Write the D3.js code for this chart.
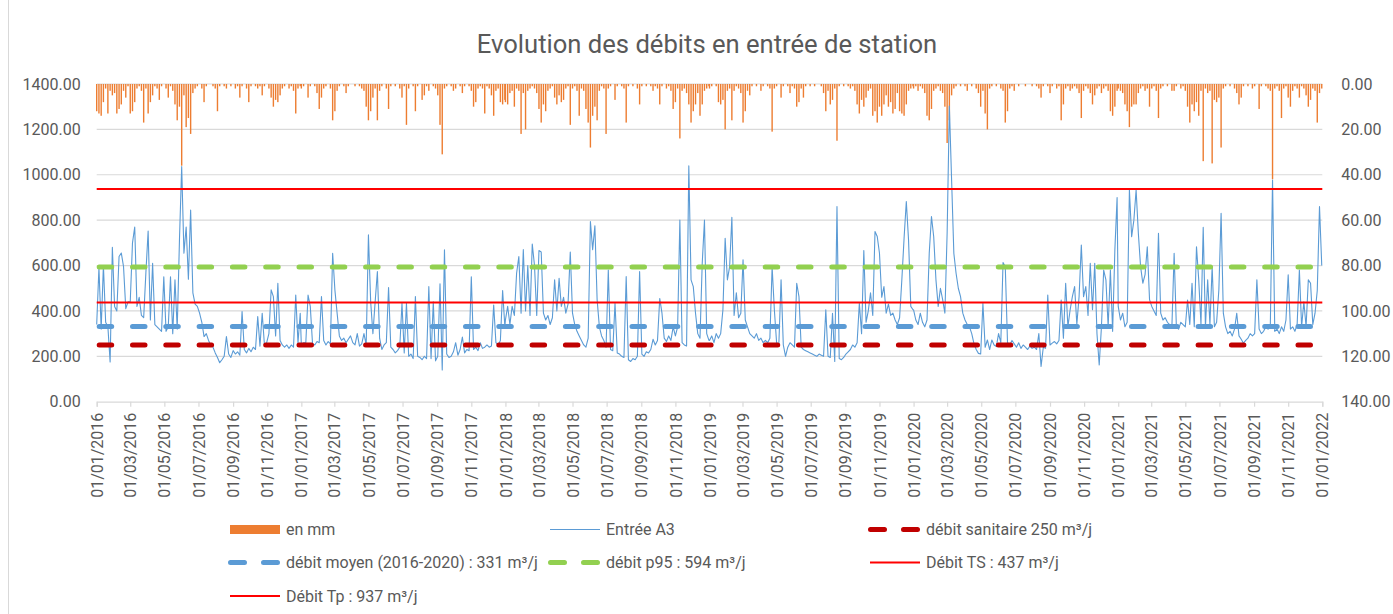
<!DOCTYPE html>
<html><head><meta charset="utf-8">
<script src="https://cdn.jsdelivr.net/npm/d3@7"></script>
<style>
body{margin:0;background:#fff}
svg{display:block}
text{font-family:Roboto,"Noto Sans",sans-serif;fill:#595959}
</style>
</head><body>
<svg id="c" width="1393" height="614"></svg>
<script>
// ---- DATA ----
const chartTitle = "Evolution des débits en entrée de station";
const years = [2016, 2017, 2018, 2019, 2020, 2021];
const stepDays = 4; // one reading every 4 days, starting 1 January of each year

// Entrée A3 (m³/j)
const flow2016 = [340,590,320,600,350,330,175,680, 420,400,640,655,595,410,440, 440,700,770,420,460,380,370,570, 752,360,610,340,330,320,310, 550,310,330,550,300,537,320,710, 1036,654,770,540,845,480,430, 420,390,350,287,300,270,250,240, 215,195,172,185,200,287,210,195, 225,210,220,205,397,230,215, 235,220,240,230,375,245,390,250, 260,300,493,463,290,522,270, 250,240,250,235,250,240,470,260,390];
const flow2017 = [250,260,260,470,420,255,250,265, 260,463,270,250,265,255,654, 493,390,290,270,280,260,275,290, 260,250,300,245,255,300,250, 735,440,300,440,573,280,230,250, 260,503,240,230,215,225,240, 434,215,434,200,210,190,463,200, 195,185,200,190,507,190,440,180, 200,520,140,669,210,195,200, 220,260,205,230,285,215,230,225, 550,230,240,225,260,235,240, 250,240,245,426,260,250,270,490,330];
const flow2018 = [360,420,340,420,380,566,640,390, 670,400,600,380,695,600,380, 666,660,390,360,380,340,370,537, 400,544,420,460,390,430,660, 390,340,310,290,270,250,240,280, 794,670,775,450,330,290,270, 240,580,230,225,434,215,210,200, 195,551,185,177,190,185,200,573, 210,200,220,215,230,275,250, 270,455,390,280,265,290,270,330, 290,330,800,260,250,245,1039, 537,507,390,300,280,610,800,300,270];
const flow2019 = [270,290,260,300,280,300,405,720, 537,595,813,380,480,370,390, 625,360,330,300,290,280,300,270, 280,260,270,260,280,595,405, 260,250,537,250,200,240,260,250, 240,522,463,240,230,225,220, 215,210,205,200,210,205,200,405, 200,195,390,177,860,190,185,195, 210,220,230,250,240,260,434, 300,666,350,400,480,380,750,728, 654,460,507,390,430,380,390, 360,340,370,537,720,882,712,420,405];
const flow2020 = [405,360,340,390,350,330,360,654, 816,727,537,420,500,450,390, 742,1303,977,654,566,500,463,390, 360,340,330,300,256,230,213, 210,434,240,272,230,272,250,243, 300,260,613,595,260,250,270, 255,240,260,235,250,240,230,245, 235,240,230,300,155,240,235,470, 250,258,265,255,270,448,280, 522,330,405,463,507,340,463,690, 463,507,380,610,405,610,300, 162,330,580,537,330,580,310,669,900];
const flow2021 = [420,360,390,330,350,933,727,800, 933,742,595,522,560,683,450, 420,400,380,742,390,360,370,350, 340,330,654,330,320,350,340, 330,448,340,522,330,683,537,340, 768,330,537,340,595,330,350, 493,830,390,330,300,310,290,320, 390,290,275,258,270,280,300,290, 300,537,320,300,310,330,320, 330,977,310,320,300,330,310,360, 559,320,330,310,340,580,330, 440,330,537,522,340,390,490,860,600];

// Pluie (mm), same 4-day readings
const rain2016 = [12,13,14,8,2,13,3,5,4,13,11,9,3,6,1,13,12,8,2,1,3,17,2,13,8,5,1,2,7,1,0,2,6,1,3,9,16,10,36,5,19,15,22,4,2,1,0,2,8,1,0,0,1,2,12,1,0,1,2,0,1,0,2,1,6,1,0,2,8,1,0,1,2,1,5,1,0,2,6,10,7,8,5,2,1,0,2,1,3,13,2,1];
const rain2017 = [2,1,0,6,1,0,1,4,11,6,2,1,0,2,16,12,3,1,0,1,4,1,0,0,1,0,1,2,3,10,16,12,6,2,16,3,1,0,2,11,1,0,1,0,2,6,1,18,2,0,1,12,1,0,7,5,1,3,0,1,2,5,18,31,2,1,0,1,3,2,0,1,4,1,0,1,3,10,8,2,1,2,13,1,2,5,14,3,2,8,9,7];
const rain2018 = [8,9,4,3,10,2,3,22,4,20,3,2,1,2,4,11,17,9,12,3,2,1,6,9,5,8,7,2,1,18,2,1,3,14,2,3,11,17,28,14,10,16,3,1,2,22,2,1,0,7,1,0,1,2,17,1,0,1,0,2,9,1,0,1,0,1,3,1,2,9,1,0,2,1,3,11,8,2,24,3,2,4,9,17,12,9,4,14,9,3,2,1];
const rain2019 = [2,1,0,1,8,9,7,20,3,2,16,3,1,2,4,17,12,3,5,1,0,1,0,3,1,0,1,2,21,2,1,0,6,1,0,1,4,1,2,10,8,2,6,1,0,1,0,1,0,0,1,4,12,3,9,7,2,25,1,0,1,0,1,2,1,3,9,13,7,10,6,3,2,14,12,17,10,14,9,5,10,8,13,11,4,12,13,14,9,3,2,1];
const rain2020 = [2,1,3,1,2,4,14,16,11,3,2,1,3,4,10,26,16,5,2,1,0,1,0,1,3,0,1,0,2,4,10,3,13,20,2,1,0,1,0,2,3,17,12,2,1,3,0,1,0,0,1,0,0,1,0,1,2,6,1,0,1,4,1,0,2,1,16,9,2,1,3,2,1,2,4,15,3,1,2,4,9,5,2,1,4,2,1,3,12,14,10,3];
const rain2021 = [2,3,4,9,12,19,10,9,9,4,2,1,3,2,10,2,1,3,15,2,1,0,1,0,3,3,1,0,2,1,3,10,17,9,12,8,14,3,34,2,4,3,35,7,8,6,28,2,1,0,1,0,2,4,9,6,1,0,1,0,2,1,0,11,1,0,1,2,3,42,2,1,3,15,2,1,6,10,3,1,2,6,1,2,5,10,7,2,3,17,4,2];

// Reference flows (m³/j)
const refNames  = ["débit sanitaire 250 m³/j", "débit moyen (2016-2020) : 331 m³/j", "débit p95 : 594 m³/j", "Débit TS : 437 m³/j", "Débit Tp : 937 m³/j"];
const refValues = [250, 331, 594, 437, 937];

const leftTicks  = [0, 200, 400, 600, 800, 1000, 1200, 1400];
const rightTicks = [0, 20, 40, 60, 80, 100, 120, 140];
const seriesNames = ["en mm", "Entrée A3"];

// ---- STYLES ----
const refStyles = [
  {color:"#C00000", width:5, dash:true},
  {color:"#5B9BD5", width:5, dash:true},
  {color:"#92D050", width:5, dash:true},
  {color:"#FF0000", width:2, dash:false},
  {color:"#FF0000", width:2, dash:false}
];
const flowColor = "#5B9BD5", rainColor = "#ED7D31", gridColor = "#D9D9D9";

// ---- BUILD ----
const flows = [flow2016, flow2017, flow2018, flow2019, flow2020, flow2021];
const rains = [rain2016, rain2017, rain2018, rain2019, rain2020, rain2021];
const flowPts = [], rainPts = [];
years.forEach((yr, k) => {
  flows[k].forEach((v, i) => flowPts.push({date: new Date(Date.UTC(yr, 0, 1 + stepDays * i)), v}));
  rains[k].forEach((v, i) => rainPts.push({date: new Date(Date.UTC(yr, 0, 1 + stepDays * i)), v}));
});

const svg = d3.select("#c");
const X0 = 96.7, X1 = 1322.3, Y0 = 401.7, Y1 = 84;
const start = new Date(Date.UTC(2016, 0, 1)), end = new Date(Date.UTC(2022, 0, 1));
const x = d3.scaleUtc().domain([start, end]).range([X0, X1]);
const y = d3.scaleLinear().domain([0, 1400]).range([Y0, Y1]);
const yR = d3.scaleLinear().domain([0, 140]).range([Y1, Y0]);

// chart area border (left)
svg.append("line").attr("x1", 8.5).attr("x2", 8.5).attr("y1", 0).attr("y2", 614)
  .attr("stroke", gridColor).attr("stroke-width", 1);

// title
svg.append("text").attr("x", 707).attr("y", 53).attr("text-anchor", "middle")
  .style("font-size", "25.6px").text(chartTitle);

// gridlines
svg.append("g").selectAll("line").data(leftTicks.filter(t => t > 0)).join("line")
  .attr("x1", X0).attr("x2", X1).attr("y1", d => y(d)).attr("y2", d => y(d))
  .attr("stroke", gridColor).attr("stroke-width", 1.2);

// left axis
const gL = svg.append("g").attr("transform", `translate(${X0},0)`)
  .call(d3.axisLeft(y).tickValues(leftTicks).tickFormat(d3.format(".2f")).tickSize(0).tickPadding(16));
gL.select(".domain").remove();
gL.selectAll("text").style("font-size", "16px").style("font-family", "Roboto").attr("fill", "#595959");

// right axis
const gR = svg.append("g").attr("transform", `translate(${X1},0)`)
  .call(d3.axisRight(yR).tickValues(rightTicks).tickFormat(d3.format(".2f")).tickSize(0).tickPadding(19));
gR.select(".domain").remove();
gR.selectAll("text").style("font-size", "16px").style("font-family", "Roboto").attr("fill", "#595959");

// bottom axis
const gB = svg.append("g").attr("transform", `translate(0,${Y0})`)
  .call(d3.axisBottom(x).ticks(d3.utcMonth.every(2)).tickFormat(d3.utcFormat("%d/%m/%Y")).tickSize(5));
gB.select(".domain").attr("stroke", gridColor).attr("stroke-width", 1.2);
gB.selectAll(".tick line").attr("stroke", gridColor).attr("stroke-width", 1.2);
gB.selectAll("text")
  .attr("transform", "rotate(-90)").attr("x", -11).attr("y", 0).attr("dy", "0.35em")
  .attr("text-anchor", "end").style("font-size", "16px").style("font-family", "Roboto").attr("fill", "#595959");

// rain bars (secondary axis, hanging from top)
svg.append("g").selectAll("rect").data(rainPts.filter(d => d.v > 0)).join("rect")
  .attr("x", d => x(d.date) - 0.7).attr("width", 1.4)
  .attr("y", Y1).attr("height", d => yR(d.v) - Y1)
  .attr("fill", rainColor);

// flow line
svg.append("path").datum(flowPts)
  .attr("d", d3.line().x(d => x(d.date)).y(d => y(d.v)))
  .attr("fill", "none").attr("stroke", flowColor).attr("stroke-width", 1.1).attr("stroke-linejoin", "round");

// reference lines
refValues.forEach((v, i) => {
  const s = refStyles[i];
  const p = svg.append("path")
    .attr("d", d3.line()([[x(start), y(v)], [x(end), y(v)]]))
    .attr("fill", "none").attr("stroke", s.color).attr("stroke-width", s.width);
  if (s.dash) p.attr("stroke-dasharray", "12.5 20.8").attr("stroke-dashoffset", 30.8).attr("stroke-linecap", "round");
});

// legend
const legendItems = [
  {label: seriesNames[0], type: "rect", color: rainColor},
  {label: seriesNames[1], type: "line", color: flowColor, width: 1.2},
  {label: refNames[0], type: "dash", color: refStyles[0].color},
  {label: refNames[1], type: "dash", color: refStyles[1].color},
  {label: refNames[2], type: "dash", color: refStyles[2].color},
  {label: refNames[3], type: "line", color: refStyles[3].color, width: 2},
  {label: refNames[4], type: "line", color: refStyles[4].color, width: 2}
];
const colX = [230, 550, 870], rowY = [529.5, 562.5, 596];
legendItems.forEach((it, i) => {
  const cx = colX[i % 3], cy = rowY[Math.floor(i / 3)];
  const g = svg.append("g");
  if (it.type === "rect") {
    g.append("rect").attr("x", cx).attr("y", cy - 4.5).attr("width", 50).attr("height", 9).attr("fill", it.color);
  } else if (it.type === "line") {
    g.append("line").attr("x1", cx).attr("x2", cx + 50).attr("y1", cy).attr("y2", cy)
      .attr("stroke", it.color).attr("stroke-width", it.width);
  } else {
    g.append("line").attr("x1", cx + 0.5).attr("x2", cx + 47.5).attr("y1", cy).attr("y2", cy)
      .attr("stroke", it.color).attr("stroke-width", 5).attr("stroke-linecap", "round")
      .attr("stroke-dasharray", "14 19");
  }
  g.append("text").attr("x", cx + 56).attr("y", cy + 5.5).style("font-size", "16px").text(it.label);
});
</script>
</body></html>
